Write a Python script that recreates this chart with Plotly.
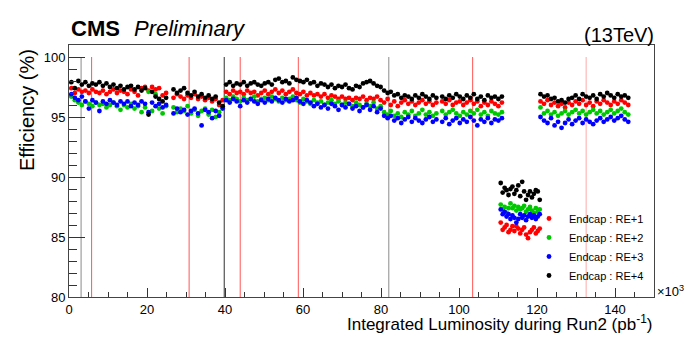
import plotly.graph_objects as go

# Integrated luminosity (x10^3 pb^-1) of each run, per data-taking block
lumi_a = [0.6, 1.5, 2.4, 3.3, 4.2, 5.1, 6.0, 6.9, 7.8, 8.7,
          9.6, 10.5, 11.4, 12.3, 13.2, 14.1, 15.0, 15.9, 16.8, 17.7,
          18.6, 19.5, 20.4, 21.3, 22.2, 23.1, 24.0, 24.9,
          26.8, 27.7, 28.6, 29.5, 30.4, 31.3, 32.2, 33.1, 34.0, 34.9,
          35.8, 36.7, 37.6, 38.5, 39.4]
lumi_b = [40.3, 41.2, 42.1, 43.0, 43.9, 44.8, 45.7, 46.6, 47.5, 48.4,
          49.3, 50.2, 51.1, 52.0, 52.9, 53.8, 54.7, 55.6, 56.5, 57.4,
          58.3, 59.2, 60.1, 61.0, 61.9, 62.8, 63.7, 64.6, 65.5, 66.4,
          67.3, 68.2, 69.1, 70.0, 70.9, 71.8, 72.7, 73.6, 74.5, 75.4,
          76.3, 77.2, 78.1, 79.0, 79.9, 80.8, 81.7]
lumi_c = [82.5, 83.4, 84.3, 85.2, 86.1, 87.0, 87.9, 88.8, 89.7, 90.6,
          91.5, 92.4, 93.3, 94.2,
          95.7, 96.6, 97.5, 98.4, 99.3, 100.2,
          101.1, 102.0, 102.9, 103.8, 104.7, 105.6, 106.5, 107.4, 108.3, 109.2,
          110.1, 111.0]
lumi_d = [110.7, 111.2, 111.7, 112.2, 112.7, 113.2, 113.7, 114.2, 114.7, 115.2,
          115.7, 116.2, 116.7, 117.2, 117.7, 118.2, 118.7, 119.2, 119.7, 120.2,
          120.7]
lumi_e = [120.9, 121.8, 122.7, 123.6, 124.5, 125.4, 126.3, 127.2, 128.1, 129.0,
          129.9, 130.8, 131.7, 132.6, 133.5, 134.4, 135.3, 136.2, 137.1, 138.0,
          138.9, 139.8, 140.7, 141.6, 142.5, 143.4]
lumi = lumi_a + lumi_b + lumi_c + lumi_d + lumi_e

# Efficiency (%) per station
re1 = [97.4, 97.0, 97.3, 97.1, 97.2, 97.0, 97.3, 97.1, 97.0, 97.2,
       96.9, 97.1, 97.3, 97.0, 97.2, 97.1, 96.9, 97.3, 97.1, 96.8,
       97.4, 97.5, 97.2, 97.5, 97.3, 97.4, 96.8, 97.0,
       96.6, 96.9, 96.7, 96.5, 96.8, 96.6, 96.9, 96.5, 96.7, 96.4,
       96.6, 96.3, 96.5, 96.0, 96.4,
       97.1, 96.9, 97.2, 97.0, 97.1, 96.9, 97.2, 97.0, 97.1, 96.8,
       97.0, 97.2, 96.9, 97.1, 97.3, 97.0, 97.2, 96.9, 97.1, 97.3,
       97.0, 96.9, 97.1, 96.8, 97.0, 96.8, 96.9, 96.7, 96.9, 96.6,
       96.8, 96.7, 96.5, 96.7, 96.5, 96.6, 96.4, 96.6, 96.5, 96.7,
       96.4, 96.6, 96.5, 96.7, 96.4, 96.2, 96.5,
       96.0, 96.3, 95.9, 96.2, 96.4, 96.1, 96.3, 96.0, 96.2, 96.4,
       96.1, 96.3, 96.0, 96.2,
       96.3, 96.1, 96.4, 96.0, 96.2, 96.3,
       96.0, 96.2, 96.4, 96.1, 96.3, 95.9, 96.2, 96.0, 96.3, 96.1,
       95.9, 96.2,
       86.2, 85.6, 85.8, 86.0, 85.4, 85.6, 85.9, 85.5, 85.9, 85.7,
       85.3, 85.6, 85.8, 85.2, 84.9, 85.4, 85.6, 85.8, 85.3, 85.5,
       85.7,
       96.3, 96.1, 96.4, 96.0, 96.2, 95.9, 96.1, 95.8, 96.2, 96.0,
       96.3, 96.1, 96.4, 96.0, 96.2, 95.9, 96.3, 96.1, 96.4, 96.2,
       96.0, 96.3, 96.1, 96.4, 96.2, 96.0]
re2 = [96.7, 96.4, 96.2, 96.0, 96.3, 96.1, 95.9, 96.2, 96.0, 96.1,
       95.8, 96.0, 96.2, 95.9, 95.6, 96.0, 95.8, 96.1, 95.7, 95.9,
       95.4, 95.8, 97.1, 95.5, 96.9, 95.7, 95.3, 95.9,
       95.8, 95.4, 95.7, 95.5, 95.9, 95.3, 95.6, 95.1, 95.5, 95.7,
       95.2, 95.6, 95.0, 95.4, 95.8,
       96.6, 96.4, 96.7, 96.5, 96.3, 96.6, 96.4, 96.5, 96.7, 96.3,
       96.5, 96.6, 96.4, 96.7, 96.5, 96.3, 96.6, 96.4, 96.5, 96.7,
       96.4, 96.2, 96.5, 96.3, 96.1, 96.4, 96.2, 96.3, 96.0, 96.2,
       96.4, 96.1, 96.3, 96.0, 96.2, 96.1, 95.9, 96.2, 96.0, 95.8,
       96.1, 95.9, 96.2, 95.7, 95.9, 95.4, 95.2,
       95.5, 95.1, 95.3, 95.0, 95.4, 95.2, 95.5, 95.1, 95.3, 95.6,
       95.2, 95.4, 95.1, 95.3,
       95.5, 95.2, 95.4, 95.6, 95.3, 95.1,
       95.4, 95.2, 95.5, 95.3, 95.6, 95.2, 95.4, 95.1, 95.5, 95.3,
       95.2, 95.4,
       87.7, 87.3, 87.5, 87.0, 87.4, 87.8, 87.4, 87.6, 87.2, 87.5,
       87.3, 87.4, 87.6, 87.1, 87.3, 87.5, 87.2, 87.0, 87.4, 87.1,
       87.3,
       95.8, 95.3, 95.5, 95.2, 95.4, 95.1, 95.3, 95.5, 95.2, 95.4,
       95.6, 95.3, 95.5, 95.2, 95.4, 95.6, 95.3, 95.5, 95.2, 95.4,
       95.6, 95.3, 95.5, 95.7, 95.4, 95.2]
re3 = [96.9, 96.6, 96.4, 96.7, 96.3, 95.7, 96.4, 96.2, 95.5, 96.3,
       96.1, 96.4, 96.2, 96.0, 96.3, 96.1, 96.3, 95.9, 96.2, 96.0,
       96.3, 96.1, 95.4, 96.2, 95.9, 96.1, 95.8, 96.0,
       95.3, 95.7, 95.4, 95.6, 95.2, 95.5, 95.7, 95.3, 94.3, 95.6,
       95.4, 94.9, 95.5, 95.1, 95.7,
       96.4, 96.2, 96.5, 96.3, 95.9, 96.4, 96.2, 96.5, 96.3, 96.1,
       96.4, 96.2, 96.5, 96.3, 96.6, 96.4, 96.2, 96.5, 96.3, 96.4,
       96.6, 96.3, 96.1, 96.4, 96.2, 95.9, 96.1, 95.8, 96.0, 95.7,
       96.1, 95.9, 95.6, 96.0, 95.8, 96.1, 95.7, 95.9, 95.5, 95.8,
       96.0, 95.6, 95.9, 95.4, 95.7, 95.1, 94.9,
       95.1, 94.7, 94.9, 94.5, 94.8, 95.0, 94.6, 94.9, 94.7, 94.5,
       94.8, 95.0, 94.6, 94.8,
       94.6, 94.9, 94.4, 94.7, 94.9, 94.5,
       94.8, 94.6, 95.0, 94.7, 94.3, 94.8, 94.6, 94.9, 94.5, 94.8,
       94.7, 94.9,
       87.3, 86.9, 87.1, 86.7, 86.9, 86.5, 86.8, 86.6, 86.2, 86.5,
       86.9, 86.6, 86.8, 86.4, 86.7, 86.9, 86.6, 86.8, 86.5, 86.7,
       86.9,
       95.0, 94.7, 94.5, 94.9, 94.3, 94.6, 94.1, 94.5, 94.8, 94.4,
       94.7, 94.9, 94.5, 94.8, 94.6, 94.4, 94.7, 94.9, 94.6, 94.8,
       95.0, 94.7, 94.9, 95.1, 94.8, 94.6]
re4 = [97.9, 97.4, 98.0, 97.7, 97.9, 97.6, 97.8, 97.7, 97.9, 97.6,
       97.8, 97.5, 97.7, 97.4, 97.6, 97.3, 97.5, 97.6, 97.3, 97.5,
       97.2, 97.4, 95.2, 97.1, 96.7, 96.5, 96.3, 96.6,
       97.3, 97.0, 97.2, 97.4, 97.0, 96.8, 97.1, 96.7, 96.9, 96.6,
       96.8, 96.5, 96.7, 96.2, 95.9,
       97.7, 97.9, 97.6, 97.8, 97.7, 97.9, 97.6, 97.8, 97.9, 97.7,
       97.6, 97.8, 97.9, 97.7, 98.1, 98.2, 97.9, 98.0, 97.8, 98.3,
       98.1, 98.0, 97.9, 98.1, 97.8, 97.9, 97.6, 97.8, 97.7, 97.5,
       97.7, 97.4, 97.6, 97.5, 97.7, 97.4, 97.3, 97.6, 97.5, 97.8,
       97.9, 98.0, 97.8, 97.6, 97.5, 97.2, 97.0,
       97.1, 96.8, 96.9, 96.6, 96.8, 96.7, 96.5, 96.8, 96.6, 96.9,
       96.7, 96.5, 96.8, 96.6,
       96.7, 96.5, 96.8, 96.6, 96.9, 96.7,
       96.5, 96.8, 96.6, 96.9, 96.5, 96.7, 96.4, 96.8, 96.6, 96.7,
       96.5, 96.7,
       89.5, 88.7, 89.1, 88.9, 88.5, 89.0, 89.2, 88.6, 88.9, 89.3,
       88.4, 89.6, 88.8, 88.1, 88.5, 88.8, 88.3, 88.6, 88.9, 88.8,
       88.1,
       96.9, 96.7, 96.8, 96.5, 96.6, 96.3, 96.4, 96.2, 96.5, 96.6,
       96.8, 96.5, 96.9, 96.7, 96.6, 96.8, 96.5, 96.9, 96.7, 97.0,
       96.8, 96.6, 96.9, 96.7, 96.8, 96.6]

series_names = ["Endcap : RE+1", "Endcap : RE+2", "Endcap : RE+3", "Endcap : RE+4"]
series_values = [re1, re2, re3, re4]
series_colors = ["#ff0000", "#00c800", "#0000ff", "#000000"]

# Vertical marker lines (x10^3 pb^-1)
grey_lines = [3.1, 82.0]
black_lines = [39.8]
red_lines = [5.8, 30.8, 43.9, 58.8, 103.5]
pink_lines = [132.6]

FONT = "Liberation Sans, Arial, Helvetica, sans-serif"

fig = go.Figure()
for name, vals, col in zip(series_names, series_values, series_colors):
    fig.add_trace(go.Scatter(
        x=lumi, y=vals, mode="markers", name=name,
        marker=dict(color=col, size=4.8, line=dict(width=0)),
    ))

shapes = []
for xs, col in [(grey_lines, "#8a8a8a"), (black_lines, "#303030"),
                (red_lines, "#ff5555"), (pink_lines, "#ffa8a8")]:
    for xv in xs:
        shapes.append(dict(type="line", xref="x", yref="y", x0=xv, x1=xv,
                           y0=80, y1=100, layer="below",
                           line=dict(color=col, width=1)))

W, H = 696, 350
L, R, T, B = 69, 42, 45, 53
pw, ph = W - L - R, H - T - B


def px(xp):
    return (xp - L) / pw


def py(yp):
    return (H - B - yp) / ph


annotations = [
    dict(text="<b>CMS</b>", x=px(69), y=py(28), xanchor="left", yanchor="middle",
         font=dict(size=22, family=FONT, color="black")),
    dict(text="<i>Preliminary</i>", x=px(132), y=py(28), xanchor="left", yanchor="middle",
         font=dict(size=22, family=FONT, color="black")),
    dict(text="(13TeV)", x=px(656), y=py(35), xanchor="right", yanchor="middle",
         font=dict(size=20, family=FONT, color="black")),
    dict(text="Efficiency (%)", x=px(27), y=py(47), xanchor="center", yanchor="top",
         textangle=-90, font=dict(size=20, family=FONT, color="black")),
    dict(text="Integrated Luminosity during Run2 (pb<sup>-1</sup>)", x=px(654), y=py(323),
         xanchor="right", yanchor="middle", font=dict(size=17, family=FONT, color="black")),
    dict(text="\u00d710<sup>3</sup>", x=px(655), y=py(291), xanchor="left", yanchor="middle",
         font=dict(size=13, family=FONT, color="black")),
]
for a in annotations:
    a.update(xref="paper", yref="paper", showarrow=False)

fig.update_layout(
    width=W, height=H,
    margin=dict(l=L, r=R, t=T, b=B, pad=0),
    paper_bgcolor="white", plot_bgcolor="white",
    font=dict(family=FONT, color="black"),
    shapes=shapes, annotations=annotations,
    showlegend=True,
    legend=dict(x=px(529), y=py(204), xanchor="left", yanchor="top",
                bgcolor="rgba(0,0,0,0)", font=dict(size=11, family=FONT, color="black")),
    xaxis=dict(range=[0, 150], showgrid=False, zeroline=False,
               showline=True, linecolor="#444444", linewidth=1, mirror=True,
               ticks="inside", ticklen=9, tickcolor="#333333", dtick=20, tick0=0,
               tickfont=dict(size=13, family=FONT, color="black"),
               minor=dict(ticks="inside", ticklen=5, dtick=5, tickcolor="#333333", showgrid=False)),
    yaxis=dict(range=[80, 101], showgrid=False, zeroline=False,
               showline=True, linecolor="#444444", linewidth=1, mirror=True,
               ticks="inside", ticklen=16, tickcolor="#333333", dtick=5, tick0=80,
               tickfont=dict(size=13, family=FONT, color="black"),
               minor=dict(ticks="inside", ticklen=8, dtick=1, tickcolor="#333333", showgrid=False)),
)

fig.write_html("out.html", config={"displayModeBar": False},
               post_script="document.body.style.margin='0';")
